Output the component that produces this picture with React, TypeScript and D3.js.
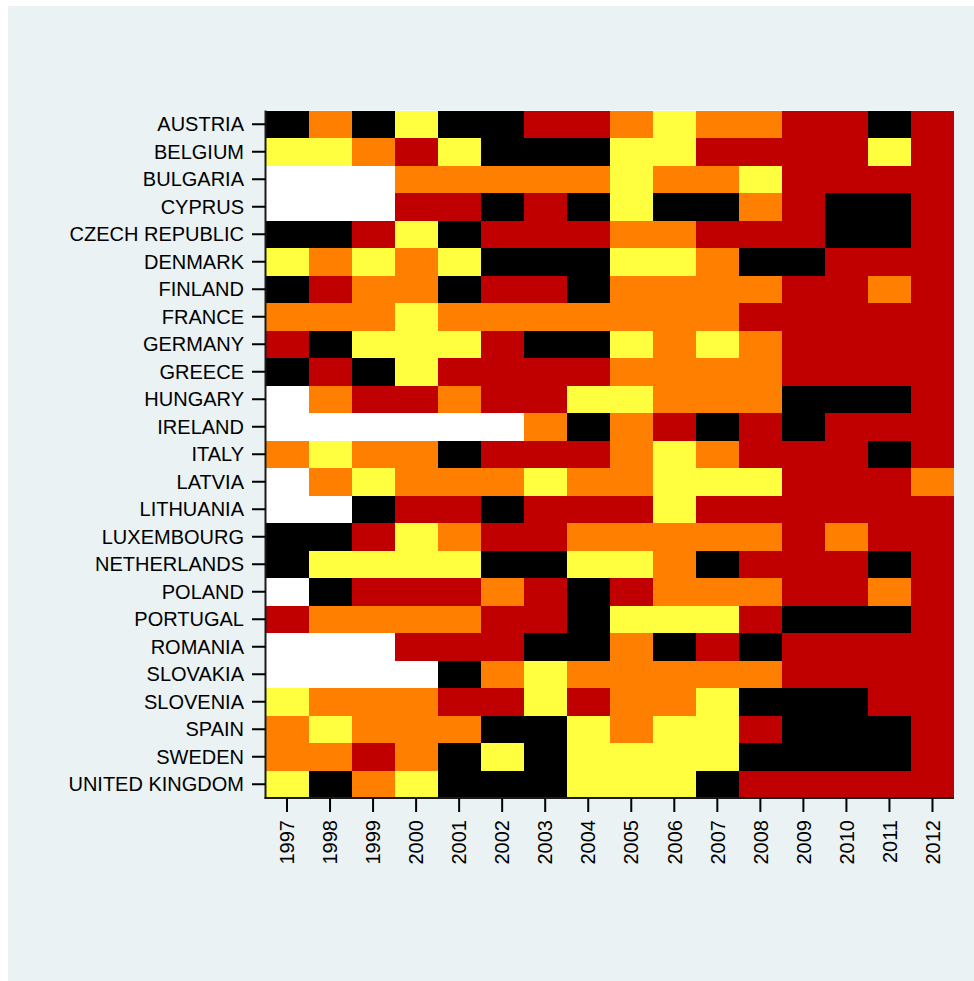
import React from "react";
import * as d3 from "d3";

const countries = [
  "AUSTRIA", "BELGIUM", "BULGARIA", "CYPRUS", "CZECH REPUBLIC", "DENMARK",
  "FINLAND", "FRANCE", "GERMANY", "GREECE", "HUNGARY", "IRELAND", "ITALY",
  "LATVIA", "LITHUANIA", "LUXEMBOURG", "NETHERLANDS", "POLAND", "PORTUGAL",
  "ROMANIA", "SLOVAKIA", "SLOVENIA", "SPAIN", "SWEDEN", "UNITED KINGDOM",
];

const years = [
  "1997", "1998", "1999", "2000", "2001", "2002", "2003", "2004",
  "2005", "2006", "2007", "2008", "2009", "2010", "2011", "2012",
];

// Category per cell: W = missing, Y, O, R, K (yellow, orange, red, black)
const cellCodes = [
  "KOKYKKRROYOORRKR", // AUSTRIA
  "YYORYKKKYYRRRRYR", // BELGIUM
  "WWWOOOOOYOOYRRRR", // BULGARIA
  "WWWRRKRKYKKORKKR", // CYPRUS
  "KKRYKRRROORRRKKR", // CZECH REPUBLIC
  "YOYOYKKKYYOKKRRR", // DENMARK
  "KROOKRRKOOOORROR", // FINLAND
  "OOOYOOOOOOORRRRR", // FRANCE
  "RKYYYRKKYOYORRRR", // GERMANY
  "KRKYRRRROOOORRRR", // GREECE
  "WORRORRYYOOOKKKR", // HUNGARY
  "WWWWWWOKORKRKRRR", // IRELAND
  "OYOOKRRROYORRRKR", // ITALY
  "WOYOOOYOOYYYRRRO", // LATVIA
  "WWKRRKRRRYRRRRRR", // LITHUANIA
  "KKRYORROOOOOROR R".replace(" ", ""), // LUXEMBOURG
  "KYYYYKKYYOKRRRKR", // NETHERLANDS
  "WKRRRORKROOORROR", // POLAND
  "ROOOORRKYYYRKKKR", // PORTUGAL
  "WWWRRRKKOKRKRRRR", // ROMANIA
  "WWWWKOYOOOOORRRR", // SLOVAKIA
  "YOOORRYROOYKKKRR", // SLOVENIA
  "OYOOOKKYOYYRKKKR", // SPAIN
  "OOROKYKYYYYKKKKR", // SWEDEN
  "YKOYKKKYYYKRRRRR", // UNITED KINGDOM
];

const categoryKeys = ["W", "Y", "O", "R", "K"];
const categoryColors = ["#ffffff", "#ffff40", "#ff8000", "#c00000", "#000000"];

const W = 974;
const H = 981;
const plot = { left: 265.5, right: 954, top: 110.5, bottom: 798 };

export default function App() {
  const x = d3.scaleBand<string>().domain(years).range([plot.left, plot.right]).padding(0);
  const y = d3.scaleBand<string>().domain(countries).range([plot.top, plot.bottom]).padding(0);
  const color = d3.scaleOrdinal<string, string>().domain(categoryKeys).range(categoryColors);

  const cells: { c: string; yr: string; code: string }[] = [];
  countries.forEach((c, i) => {
    years.forEach((yr, j) => {
      cells.push({ c, yr, code: cellCodes[i][j] });
    });
  });

  const font = "'Liberation Sans', Arial, Helvetica, sans-serif";

  return (
    <svg
      width={W}
      height={H}
      style={{ position: "absolute", left: 0, top: 0 }}
      viewBox={`0 0 ${W} ${H}`}
    >
      <rect x={0} y={0} width={W} height={H} fill="#ffffff" />
      <rect x={8} y={6} width={W - 8} height={H - 6} fill="#eaf2f3" />
      <rect
        x={plot.left}
        y={plot.top}
        width={plot.right - plot.left}
        height={plot.bottom - plot.top}
        fill="#ffffff"
      />
      <g>
        {cells.map((d) => (
          <rect
            key={d.c + d.yr}
            x={x(d.yr)!}
            y={y(d.c)!}
            width={x.bandwidth() + 0.3}
            height={y.bandwidth() + 0.3}
            fill={color(d.code)}
            shapeRendering="crispEdges"
          />
        ))}
      </g>
      {/* axes */}
      <line x1={plot.left} x2={plot.left} y1={plot.top} y2={plot.bottom + 1} stroke="#1a1a1a" strokeWidth={2} />
      <line x1={plot.left - 1} x2={plot.right} y1={plot.bottom} y2={plot.bottom} stroke="#1a1a1a" strokeWidth={2} />
      <g>
        {countries.map((c) => {
          const cy = y(c)! + y.bandwidth() / 2;
          return (
            <g key={c}>
              <line x1={252} x2={plot.left} y1={cy} y2={cy} stroke="#000" strokeWidth={2} />
              <text
                x={244}
                y={cy}
                dy="0.36em"
                textAnchor="end"
                fontFamily={font}
                fontSize={20}
                fill="#000"
              >
                {c}
              </text>
            </g>
          );
        })}
      </g>
      <g>
        {years.map((yr) => {
          const cx = x(yr)! + x.bandwidth() / 2;
          return (
            <g key={yr}>
              <line x1={cx} x2={cx} y1={plot.bottom} y2={812} stroke="#000" strokeWidth={2} />
              <text
                transform={`translate(${cx},820) rotate(-90)`}
                dy="0.36em"
                textAnchor="end"
                fontFamily={font}
                fontSize={20}
                fill="#000"
              >
                {yr}
              </text>
            </g>
          );
        })}
      </g>
    </svg>
  );
}
